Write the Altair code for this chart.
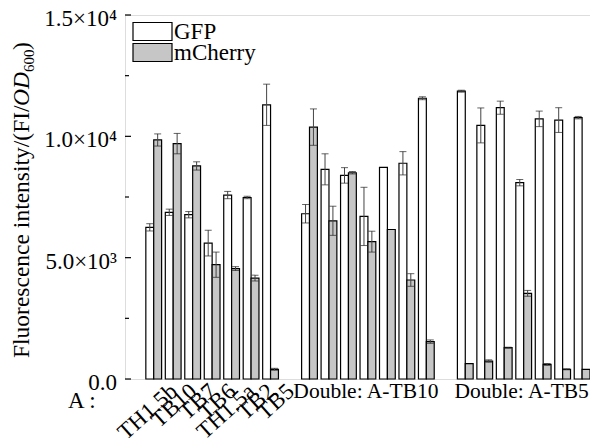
import altair as alt
import pandas as pd

# ---------------- data ----------------
series = ["GFP", "mCherry"]
series_fill = ["#ffffff", "#c6c6c6"]

single_labels = ["TH1.5b", "TB10", "TB7", "TB6", "TH1.5a", "TB2", "TB5"]
group_titles = ["Double: A-TB10", "Double: A-TB5"]

gfp_single = [6250, 6870, 6770, 5600, 7580, 7480, 11300]
gfp_single_err = [150, 130, 130, 530, 150, 50, 850]
mch_single = [9850, 9700, 8780, 4710, 4550, 4160, 400]
mch_single_err = [250, 420, 170, 520, 80, 120, 40]

gfp_tb10 = [6810, 8640, 8390, 6700, 8720, 8890, 11570]
gfp_tb10_err = [380, 640, 320, 1200, 0, 480, 60]
mch_tb10 = [10380, 6520, 8500, 5660, 6160, 4080, 1540]
mch_tb10_err = [750, 600, 50, 430, 0, 260, 70]

gfp_tb5 = [11860, 10450, 11180, 8090, 10720, 10670, 10770]
gfp_tb5_err = [40, 720, 270, 130, 320, 510, 50]
mch_tb5 = [630, 740, 1290, 3530, 600, 400, 400]
mch_tb5_err = [0, 50, 20, 120, 40, 20, 0]

y_tick_values = [0, 5000, 10000, 15000]
y_tick_labels = ["0.0", "5.0×10³", "1.0×10⁴", "1.5×10⁴"]
y_minor_values = [2500, 7500, 12500]

# ---------------- tables ----------------
tb10_slots = [f"A-TB10 #{i+1}" for i in range(7)]
tb5_slots = [f"A-TB5 #{i+1}" for i in range(7)]
slots = single_labels + ["gap1"] + tb10_slots + ["gap2"] + tb5_slots

rows = []
for slot_list, g, ge, m, me in [
    (single_labels, gfp_single, gfp_single_err, mch_single, mch_single_err),
    (tb10_slots, gfp_tb10, gfp_tb10_err, mch_tb10, mch_tb10_err),
    (tb5_slots, gfp_tb5, gfp_tb5_err, mch_tb5, mch_tb5_err),
]:
    for i, s in enumerate(slot_list):
        rows.append({"slot": s, "series": "GFP", "value": g[i], "err": ge[i]})
        rows.append({"slot": s, "series": "mCherry", "value": m[i], "err": me[i]})
df = pd.DataFrame(rows)
df["lo"] = df["value"] - df["err"]
df["hi"] = df["value"] + df["err"]
df_err = df[df["err"] > 0]

df_lab = pd.DataFrame({"slot": single_labels, "label": single_labels})
df_grp = pd.DataFrame({"slot": [tb10_slots[3], tb5_slots[3]], "label": group_titles})
df_major = pd.DataFrame({"v": y_tick_values, "label": y_tick_labels})
df_minor = pd.DataFrame({"v": y_minor_values})

W, H = 465, 364
FONT = "Liberation Serif"

xscale = alt.Scale(domain=slots, paddingInner=0.19, paddingOuter=0.535, align=1)
yscale = alt.Scale(domain=[0, 15000], nice=False)
offscale = alt.Scale(domain=series, paddingInner=0, paddingOuter=0)

bars = alt.Chart(df).mark_bar(stroke="black", strokeWidth=1.2).encode(
    x=alt.X("slot:N", scale=xscale, title=None,
            axis=alt.Axis(labels=False, ticks=False, grid=False, domainColor="black",
                          domainWidth=1.5)),
    xOffset=alt.XOffset("series:N", scale=offscale),
    y=alt.Y("value:Q", scale=yscale, title=None,
            axis=alt.Axis(values=y_tick_values, labels=False, ticks=False,
                          grid=False, domainColor="black", domainWidth=1.5)),
    fill=alt.Fill("series:N", scale=alt.Scale(domain=series, range=series_fill), legend=None),
)

err_enc = dict(
    x=alt.X("slot:N", scale=xscale, axis=None, title=None),
    xOffset=alt.XOffset("series:N", scale=offscale),
)
whisk = alt.Chart(df_err).mark_rule(color="#444444", strokeWidth=1).encode(
    y=alt.Y("lo:Q", scale=yscale, axis=None, title=None), y2="hi:Q", **err_enc)
cap_hi = alt.Chart(df_err).mark_tick(color="#222222", thickness=1, size=7).encode(
    y=alt.Y("hi:Q", scale=yscale, axis=None, title=None), **err_enc)
cap_lo = alt.Chart(df_err).mark_tick(color="#222222", thickness=1, size=7).encode(
    y=alt.Y("lo:Q", scale=yscale, axis=None, title=None), **err_enc)

major = alt.Chart(df_major).mark_rule(color="black", strokeWidth=1.2).encode(
    y=alt.Y("v:Q", scale=yscale, axis=None, title=None), x=alt.value(0), x2=alt.value(6))
minor = alt.Chart(df_minor).mark_rule(color="black", strokeWidth=1.2).encode(
    y=alt.Y("v:Q", scale=yscale, axis=None, title=None), x=alt.value(0), x2=alt.value(4))
ylabels = alt.Chart(df_major).mark_text(
    align="right", baseline="middle", font=FONT, fontSize=23, color="black", dy=4).encode(
    y=alt.Y("v:Q", scale=yscale, axis=None, title=None), x=alt.value(-8), text="label:N")

xlabels = alt.Chart(df_lab).mark_text(
    angle=318, align="right", baseline="top", dx=9.7, dy=8.7,
    font=FONT, fontSize=23, color="black").encode(
    x=alt.X("slot:N", scale=xscale, axis=None, title=None, bandPosition=0.5),
    y=alt.value(H + 1), text="label:N")

glabels = alt.Chart(df_grp).mark_text(
    align="center", baseline="alphabetic", font=FONT, fontSize=21.5, color="black", dx=-2).encode(
    x=alt.X("slot:N", scale=xscale, axis=None, title=None, bandPosition=0.5),
    y=alt.value(H + 19), text="label:N")

a_label = alt.Chart(pd.DataFrame({"t": ["A\u2009:"]})).mark_text(
    align="left", baseline="alphabetic", font=FONT, fontSize=23, color="black").encode(
    x=alt.value(-57), y=alt.value(H + 29), text="t:N")

# legend (drawn inside the plot, top-left)
legend_layers = []
for i, (s, f) in enumerate(zip(series, series_fill)):
    top = 7.5 + i * 21
    legend_layers.append(
        alt.Chart(pd.DataFrame({"s": [s]})).mark_rect(fill=f, stroke="black", strokeWidth=1.2).encode(
            x=alt.value(8), x2=alt.value(47), y=alt.value(top), y2=alt.value(top + 18)))
    legend_layers.append(
        alt.Chart(pd.DataFrame({"s": [s]})).mark_text(
            align="left", baseline="alphabetic", font=FONT, fontSize=23, color="black").encode(
            x=alt.value(49), y=alt.value(top + 16.5), text="s:N"))

# rotated y title built from pieces (italic OD, subscript 600)
TX = -96.5
title_parts = [
    ("Fluorescence intensity/(FI/", 343, TX, 23.5, "normal"),
    ("OD", 91, TX, 23.5, "italic"),
    ("600", 57, TX + 5, 15, "normal"),
    (")", 35, TX, 23.5, "normal"),
]
title_layers = []
for t, yy, xx, fs, st in title_parts:
    title_layers.append(
        alt.Chart(pd.DataFrame({"t": [t]})).mark_text(
            angle=270, align="left", baseline="alphabetic", font=FONT, fontSize=fs,
            fontStyle=st, color="black").encode(
            x=alt.value(xx), y=alt.value(yy), text="t:N"))

chart = alt.layer(
    bars, whisk, cap_hi, cap_lo, major, minor, ylabels, xlabels, glabels, a_label,
    *legend_layers, *title_layers
).properties(
    width=W, height=H, autosize="none",
    padding={"left": 117, "top": 7, "right": 0, "bottom": 59},
).configure_view(stroke=None).configure(font=FONT)

chart.save("out.html", embed_options={"renderer": "svg", "actions": False})
